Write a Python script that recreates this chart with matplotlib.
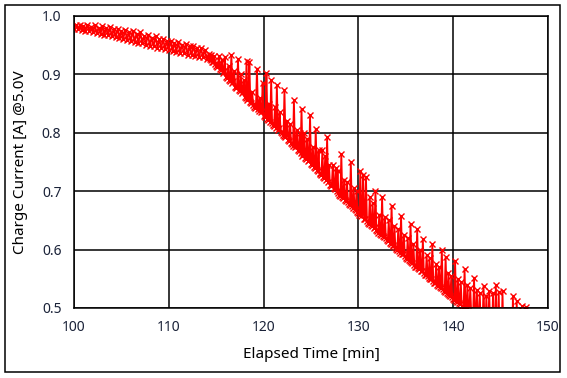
import matplotlib
matplotlib.use("Agg")
import matplotlib.pyplot as plt
import numpy as np

# slow taper: readings every 0.2 min from 99.8 to 114.0
early_current = [
    0.983,
    0.978, 0.985, 0.977, 0.984, 0.976, 0.983, 0.975, 0.985, 0.974, 0.982,
    0.972, 0.984, 0.971, 0.980, 0.970, 0.983, 0.968, 0.979, 0.967, 0.981,
    0.965, 0.977, 0.964, 0.978, 0.962, 0.974, 0.961, 0.976, 0.959, 0.972,
    0.957, 0.974, 0.956, 0.970, 0.954, 0.972, 0.953, 0.966, 0.951, 0.968,
    0.949, 0.963, 0.948, 0.965, 0.946, 0.960, 0.945, 0.961, 0.943, 0.957,
    0.941, 0.958, 0.940, 0.954, 0.939, 0.955, 0.937, 0.951, 0.936, 0.952,
    0.934, 0.948, 0.933, 0.949, 0.932, 0.946, 0.930, 0.945, 0.929, 0.942,
    0.927,
]
# current drop: readings every 0.1 min from 114.1 to 148.0
late_current = [
    0.929, 0.935, 0.926, 0.924, 0.934, 0.922, 0.921, 0.931, 0.918, 0.915,
    0.913, 0.918, 0.931, 0.909, 0.907, 0.925, 0.903, 0.905, 0.929, 0.896,
    0.894, 0.899, 0.915, 0.890, 0.888, 0.933, 0.885, 0.889, 0.905, 0.878,
    0.876, 0.880, 0.926, 0.873, 0.871, 0.900, 0.868, 0.872, 0.890, 0.861,
    0.859, 0.923, 0.857, 0.860, 0.921, 0.852, 0.851, 0.870, 0.848, 0.845,
    0.843, 0.848, 0.910, 0.840, 0.838, 0.860, 0.835, 0.838, 0.885, 0.829,
    0.827, 0.832, 0.902, 0.824, 0.822, 0.850, 0.819, 0.890, 0.816, 0.813,
    0.811, 0.845, 0.808, 0.882, 0.805, 0.808, 0.835, 0.801, 0.800, 0.797,
    0.795, 0.873, 0.793, 0.796, 0.820, 0.787, 0.786, 0.815, 0.783, 0.780,
    0.778, 0.856, 0.775, 0.777, 0.805, 0.770, 0.769, 0.800, 0.766, 0.841,
    0.761, 0.764, 0.800, 0.756, 0.755, 0.790, 0.751, 0.753, 0.830, 0.746,
    0.744, 0.775, 0.741, 0.739, 0.807, 0.736, 0.735, 0.770, 0.731, 0.729,
    0.727, 0.770, 0.724, 0.722, 0.760, 0.719, 0.793, 0.716, 0.745, 0.711,
    0.709, 0.712, 0.745, 0.706, 0.704, 0.740, 0.701, 0.735, 0.697, 0.694,
    0.692, 0.764, 0.690, 0.688, 0.720, 0.685, 0.684, 0.715, 0.681, 0.678,
    0.676, 0.750, 0.674, 0.672, 0.705, 0.669, 0.668, 0.700, 0.665, 0.662,
    0.660, 0.735, 0.658, 0.662, 0.728, 0.653, 0.652, 0.724, 0.649, 0.646,
    0.644, 0.690, 0.642, 0.640, 0.680, 0.637, 0.639, 0.701, 0.634, 0.631,
    0.629, 0.660, 0.627, 0.625, 0.690, 0.623, 0.622, 0.655, 0.619, 0.616,
    0.614, 0.650, 0.612, 0.610, 0.675, 0.608, 0.607, 0.640, 0.604, 0.601,
    0.599, 0.635, 0.597, 0.595, 0.658, 0.593, 0.592, 0.625, 0.589, 0.586,
    0.584, 0.620, 0.582, 0.580, 0.644, 0.578, 0.577, 0.610, 0.574, 0.571,
    0.570, 0.635, 0.568, 0.566, 0.600, 0.564, 0.563, 0.618, 0.560, 0.557,
    0.556, 0.590, 0.554, 0.552, 0.585, 0.550, 0.549, 0.609, 0.546, 0.543,
    0.542, 0.575, 0.540, 0.538, 0.570, 0.536, 0.535, 0.600, 0.532, 0.529,
    0.528, 0.587, 0.526, 0.524, 0.560, 0.522, 0.521, 0.555, 0.518, 0.515,
    0.514, 0.581, 0.512, 0.510, 0.550, 0.508, 0.507, 0.545, 0.504, 0.501,
    0.500, 0.566, 0.498, 0.496, 0.540, 0.494, 0.493, 0.535, 0.490, 0.487,
    0.486, 0.552, 0.484, 0.482, 0.530, 0.480, 0.479, 0.525, 0.476, 0.474,
    0.473, 0.538, 0.471, 0.469, 0.520, 0.467, 0.466, 0.529, 0.463, 0.460,
    0.459, 0.525, 0.457, 0.455, 0.540, 0.453, 0.452, 0.528, 0.449, 0.446,
    0.445, 0.529, 0.443, 0.441, 0.440, 0.438, 0.437, 0.436, 0.434, 0.433,
    0.432, 0.431, 0.521, 0.428, 0.427, 0.426, 0.512, 0.423, 0.421, 0.419,
    0.418, 0.417, 0.503, 0.414, 0.413, 0.411, 0.502, 0.409, 0.407, 0.405,
]
elapsed = np.concatenate([
    99.8 + 0.2 * np.arange(len(early_current)),
    114.1 + 0.1 * np.arange(len(late_current)),
])
current = early_current + late_current

x_ticks = [100, 110, 120, 130, 140, 150]
y_ticks = [0.5, 0.6, 0.7, 0.8, 0.9, 1.0]

plt.rcParams['font.family'] = ['Noto Sans', 'DejaVu Sans']

fig = plt.figure(figsize=(5.67, 3.78), dpi=100)
ax = fig.add_axes([0.1305, 0.1852, 0.836, 0.7725])

ax.plot(elapsed, current, color='#ff0000', lw=1.3, marker='x',
        markersize=5, markeredgewidth=1.0)

ax.set_xlim(100, 150)
ax.set_ylim(0.5, 1.0)
ax.set_xticks(x_ticks)
ax.set_yticks(y_ticks)
ax.set_yticklabels([f'{v:.1f}' for v in y_ticks])
ax.tick_params(length=0, labelsize=10, labelcolor='#1a2238', pad=9)
ax.grid(True, color='black', lw=1.1)
ax.set_axisbelow(True)
for s in ax.spines.values():
    s.set_linewidth(1.1)

ax.set_xlabel('Elapsed Time [min]', fontsize=11, labelpad=8)
ax.set_ylabel('Charge Current [A] @5.0V', fontsize=11, labelpad=10)

# outer chart border
fig.patches.append(plt.Rectangle((0.0088, 0.0159), 0.9788, 0.971,
                                 transform=fig.transFigure, fill=False,
                                 edgecolor='black', lw=1.1))

fig.savefig('out.png', dpi=100)
